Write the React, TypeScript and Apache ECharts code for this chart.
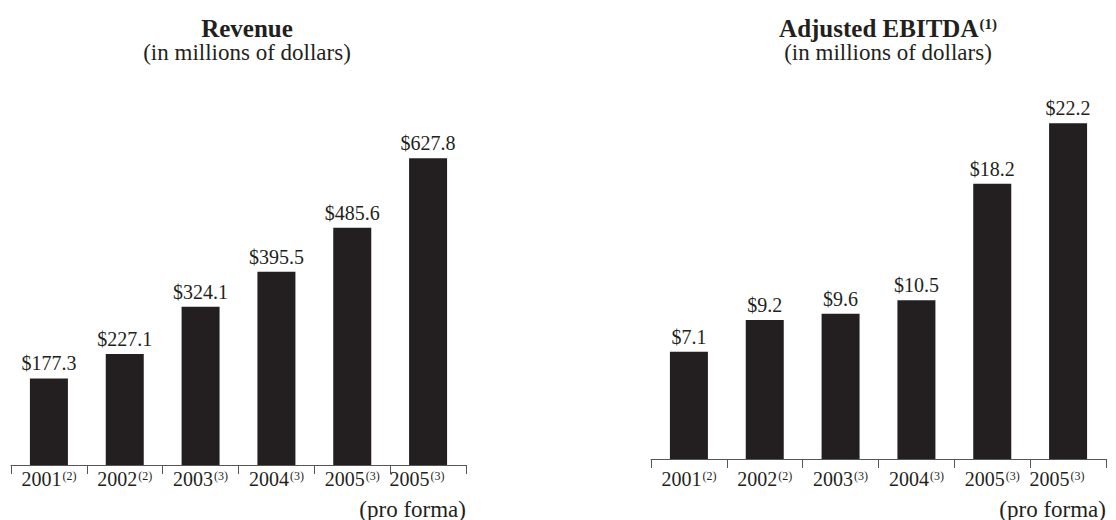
import React, { useEffect, useRef } from "react";
import * as echarts from "echarts";

const categories = ["2001", "2002", "2003", "2004", "2005", "2005 pro forma"];
const yearLabels = ["2001", "2002", "2003", "2004", "2005", "2005"];
const yearNotes = ["(2)", "(2)", "(3)", "(3)", "(3)", "(3)"];
const revenue = [177.3, 227.1, 324.1, 395.5, 485.6, 627.8];
const ebitda = [7.1, 9.2, 9.6, 10.5, 18.2, 22.2];

const FONT = "'Liberation Serif', 'Times New Roman', Times, serif";
const INK = "#231f20";
const AXIS = "#555555";

function axisLabelFormatter(_v: string, i: number) {
  if (i === 5) return `{a|${yearLabels[i]}}{s|${yearNotes[i]}}{g|}`;
  return `{a|${yearLabels[i]}}{s|${yearNotes[i]}}`;
}

const axisRich = {
  a: { fontSize: 20, fontFamily: FONT, color: INK, verticalAlign: "bottom" },
  s: { fontSize: 12, fontFamily: FONT, color: INK, verticalAlign: "bottom", padding: [0, 0, 7, 1] },
  g: { width: 22 },
};

function xAxis(gridIndex: number, margin: number) {
  return {
    type: "category",
    gridIndex,
    data: categories,
    boundaryGap: true,
    axisLine: { show: true, lineStyle: { color: AXIS, width: 1 } },
    axisTick: { show: true, length: 9, lineStyle: { color: AXIS, width: 1 } },
    axisLabel: {
      interval: 0,
      margin,
      formatter: axisLabelFormatter,
      rich: axisRich,
    },
  };
}

function yAxis(gridIndex: number, max: number) {
  return {
    type: "value",
    gridIndex,
    min: 0,
    max,
    show: false,
    splitLine: { show: false },
  };
}

function barSeries(idx: number, data: number[]) {
  return {
    type: "bar",
    xAxisIndex: idx,
    yAxisIndex: idx,
    data,
    barWidth: 38,
    itemStyle: { color: INK },
    label: {
      show: true,
      position: "top",
      distance: 5,
      fontSize: 20,
      fontFamily: FONT,
      color: INK,
      formatter: (p: any) => "$" + Number(p.value).toFixed(1),
    },
  };
}

export default function App() {
  const ref = useRef<HTMLDivElement>(null);
  useEffect(() => {
    document.body.style.margin = "0";
    if (!ref.current) return;
    const chart = echarts.init(ref.current, undefined, { renderer: "svg" });
    chart.setOption({
      animation: false,
      backgroundColor: "#ffffff",
      title: [
        {
          text: "Revenue",
          subtext: "(in millions of dollars)",
          left: 242,
          top: 11,
          textAlign: "center",
          itemGap: 0,
          textStyle: { fontSize: 25, fontWeight: "bold", fontFamily: FONT, color: INK },
          subtextStyle: { fontSize: 23, fontFamily: FONT, color: INK },
        },
        {
          text: "{t|Adjusted EBITDA}{s|(1)}",
          subtext: "(in millions of dollars)",
          left: 883,
          top: 11,
          textAlign: "center",
          itemGap: 0,
          textStyle: {
            fontSize: 25,
            fontWeight: "bold",
            fontFamily: FONT,
            color: INK,
            rich: {
              t: { fontSize: 25, fontWeight: "bold", fontFamily: FONT, color: INK, verticalAlign: "bottom" },
              s: { fontSize: 15, fontWeight: "bold", fontFamily: FONT, color: INK, verticalAlign: "bottom", padding: [0, 0, 10, 1] },
            },
          },
          subtextStyle: { fontSize: 23, fontFamily: FONT, color: INK },
        },
      ],
      grid: [
        { left: 11, right: 650, top: 123, bottom: 55 },
        { left: 651, right: 10, top: 81, bottom: 61 },
      ],
      xAxis: [xAxis(0, 4), xAxis(1, 10)],
      yAxis: [yAxis(0, 700), yAxis(1, 25)],
      series: [barSeries(0, revenue), barSeries(1, ebitda)],
      graphic: [
        {
          type: "text",
          x: 466,
          y: 509,
          style: { text: "(pro forma)", align: "right", verticalAlign: "middle", fontSize: 23, fontFamily: FONT, fill: INK },
        },
        {
          type: "text",
          x: 1106,
          y: 509,
          style: { text: "(pro forma)", align: "right", verticalAlign: "middle", fontSize: 23, fontFamily: FONT, fill: INK },
        },
      ],
    });
    return () => chart.dispose();
  }, []);
  return <div ref={ref} style={{ width: 1116, height: 520 }} />;
}
